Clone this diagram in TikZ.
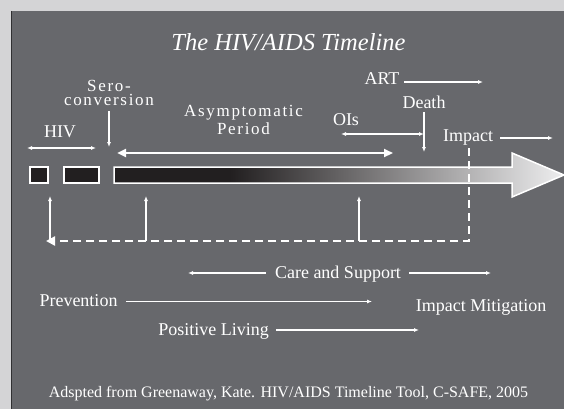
\documentclass[tikz,border=0pt]{standalone}
\usepackage{fontspec}
\setmainfont{Liberation Serif}[ItalicFont={Liberation Serif Italic}]
\usetikzlibrary{arrows.meta}
\definecolor{outerbg}{HTML}{D4D4D6}
\definecolor{panel}{HTML}{67686C}
\definecolor{paneledge}{HTML}{303032}
\definecolor{bardark}{HTML}{221F20}
\definecolor{barlight}{HTML}{EEEEEF}
\pgfdeclarehorizontalshading{hivbar}{100bp}{color(0bp)=(bardark); color(37.9bp)=(bardark); color(75bp)=(barlight); color(100bp)=(barlight)}
\begin{document}
\begin{tikzpicture}[x=1pt,y=-1pt,
  lbl/.style={text=white, font=\fontsize{18}{18}\selectfont, inner sep=0pt, anchor=base},
  spaced/.style={text=white, font=\fontsize{17}{17}\selectfont\addfontfeature{LetterSpace=10}, inner sep=0pt, anchor=base},
  thinarrow/.style={draw=white, line width=1.1pt, -{Latex[length=5pt,width=4pt]}},
  thindouble/.style={draw=white, line width=1.1pt, {Latex[length=5pt,width=4pt]}-{Latex[length=5pt,width=4pt]}},
  thickdouble/.style={draw=white, line width=2.5pt, {Triangle[length=9pt,width=8pt]}-{Triangle[length=9pt,width=8pt]}},
  stagebox/.style={draw=white, fill=bardark, line width=1.5pt, inner sep=0pt, minimum height=16pt},
  impactline/.style={draw=white, line width=2.5pt, dash pattern=on 8pt off 5pt, -{Triangle[length=9pt,width=9pt]}}
]
\useasboundingbox (0,0) rectangle (564,409);
\fill[outerbg] (0,0) rectangle (564,409);
\fill[panel] (11,11) rectangle (564,409);
\draw[paneledge, line width=1pt] (11.5,11) -- (11.5,409);

% title
\node[lbl, font=\fontsize{24.5}{24.5}\selectfont\itshape] (title) at (288.5,51) {The HIV/AIDS Timeline};

% timeline bar
\shadedraw[shading=hivbar, draw=white, line width=1.5pt, line join=miter]
  (114,167) -- (512,167) -- (512,153) -- (564,175) -- (512,197) -- (512,183) -- (114,183) -- cycle;
\node[stagebox, minimum width=18pt] (box1) at (39,175) {};
\node[stagebox, minimum width=35pt] (box2) at (81.5,175) {};

% upper labels
\node[lbl] (hiv) at (60,137) {HIV};
\node[spaced] (sero1) at (109,91.4) {Sero-};
\node[spaced] (sero2) at (109,105.3) {conversion};
\node[spaced] (asym1) at (243.5,116.7) {Asymptomatic};
\node[spaced] (asym2) at (243.5,134.3) {Period};
\node[lbl] (art) at (382,85) {ART};
\node[lbl] (death) at (424,109) {Death};
\node[lbl] (ois) at (346,125.5) {OIs};
\node[lbl] (impact) at (468,141) {Impact};

% connector end points
\coordinate (hivL) at (27,148);  \coordinate (hivR) at (96,148);
\coordinate (seroS) at (109,111); \coordinate (seroE) at (109,147);
\coordinate (asymL) at (117,153); \coordinate (asymR) at (393,153);
\coordinate (artS) at (404,82);  \coordinate (artE) at (483,82);
\coordinate (deathS) at (424,112); \coordinate (deathE) at (424,152);
\coordinate (oisL) at (341,134); \coordinate (oisR) at (424,134);
\coordinate (impS) at (500,138); \coordinate (impE) at (553,138);

\draw[thindouble] (hivL) -- (hivR);
\draw[thinarrow] (seroS) -- (seroE);
\draw[thickdouble] (asymL) -- (asymR);
\draw[thinarrow] (artS) -- (artE);
\draw[thinarrow] (deathS) -- (deathE);
\draw[thindouble] (oisL) -- (oisR);
\draw[thinarrow] (impS) -- (impE);

% feedback lines
\coordinate (dTop) at (469,148);
\coordinate (dCorner) at (469,241);
\coordinate (dEnd) at (46,241);
\coordinate (up1S) at (50,241);  \coordinate (up1E) at (50,196);
\coordinate (up2S) at (146,241); \coordinate (up2E) at (146,196);
\coordinate (up3S) at (359,241); \coordinate (up3E) at (359,196);
\draw[thinarrow] (up1S) -- (up1E);
\draw[thinarrow] (up2S) -- (up2E);
\draw[thinarrow] (up3S) -- (up3E);
\draw[impactline] (dTop) -- (dCorner) -- (dEnd);

% lower labels
\node[lbl] (care) at (338,278.3) {Care and Support};
\node[lbl] (prev) at (78.5,306) {Prevention};
\node[lbl] (mitig) at (481,311) {Impact Mitigation};
\node[lbl] (posliv) at (213.5,335) {Positive Living};
\coordinate (careLS) at (266,273); \coordinate (careLE) at (188,273);
\coordinate (careRS) at (409,273); \coordinate (careRE) at (491,273);
\coordinate (prevS) at (126,301.5); \coordinate (prevE) at (372,301.5);
\coordinate (posS) at (276,330); \coordinate (posE) at (419,330);
\draw[thinarrow] (careLS) -- (careLE);
\draw[thinarrow] (careRS) -- (careRE);
\draw[thinarrow] (prevS) -- (prevE);
\draw[thinarrow] (posS) -- (posE);

% credit
\node[lbl, font=\fontsize{16}{16}\selectfont] (credit) at (288.5,397.3) {Adspted from Greenaway, Kate. HIV/AIDS Timeline Tool, C-SAFE, 2005};
\end{tikzpicture}
\end{document}
